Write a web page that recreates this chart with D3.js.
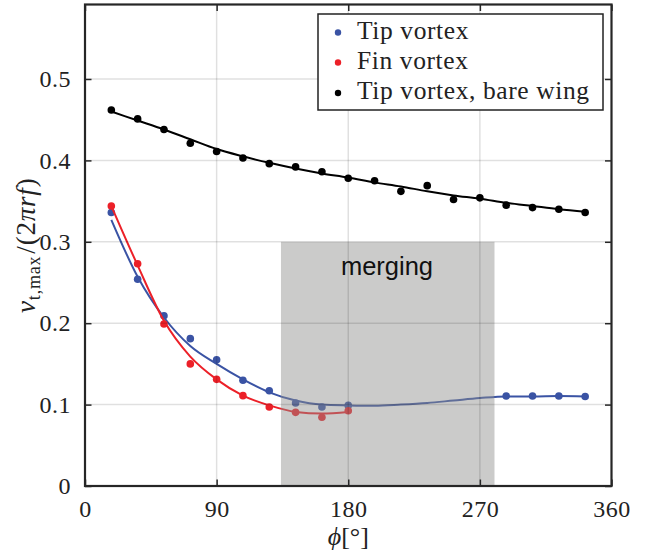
<!DOCTYPE html>
<html>
<head>
<meta charset="utf-8">
<script src="https://cdn.jsdelivr.net/npm/d3@7/dist/d3.min.js"></script>
<style>
  html, body { margin: 0; padding: 0; background: #fff; }
  svg { display: block; }
</style>
</head>
<body>
<div id="chart"></div>
<script>
// ---- data ----
const xTicks = [0, 90, 180, 270, 360];
const yTicks = [0, 0.1, 0.2, 0.3, 0.4, 0.5];
const yTickLabels = ["0", "0.1", "0.2", "0.3", "0.4", "0.5"];

const phiAll = [18, 36, 54, 72, 90, 108, 126, 144, 162, 180, 198, 216, 234, 252, 270, 288, 306, 324, 342];
const bareVals = [0.462, 0.451, 0.438, 0.421, 0.411, 0.403, 0.396, 0.392, 0.386, 0.378, 0.375, 0.362, 0.369, 0.352, 0.354, 0.345, 0.342, 0.340, 0.336];
const bareFit  = [0.460, 0.449, 0.438, 0.426, 0.414, 0.405, 0.397, 0.390, 0.384, 0.379, 0.373, 0.368, 0.362, 0.357, 0.353, 0.348, 0.344, 0.340, 0.337];

const tipPhi  = [18, 36, 54, 72, 90, 108, 126, 144, 162, 180, 288, 306, 324, 342];
const tipVals = [0.336, 0.254, 0.209, 0.181, 0.155, 0.130, 0.117, 0.102, 0.097, 0.099, 0.1106, 0.1106, 0.1106, 0.110];
const tipFit  = [0.327, 0.257, 0.207, 0.172, 0.150, 0.131, 0.115, 0.105, 0.100, 0.099, 0.0985, 0.100, 0.102, 0.105, 0.108, 0.110, 0.110, 0.1105, 0.110];

const finPhi  = [18, 36, 54, 72, 90, 108, 126, 144, 162, 180];
const finVals = [0.344, 0.273, 0.199, 0.150, 0.131, 0.111, 0.097, 0.0905, 0.0844, 0.0925];
const finFit  = [0.344, 0.271, 0.203, 0.159, 0.131, 0.111, 0.099, 0.091, 0.089, 0.091];

const mergeRange = [134, 280];
const mergeTop = 0.3;

const seriesNames = ["Tip vortex", "Fin vortex", "Tip vortex, bare wing"];
const seriesColors = ["#3a53a4", "#ec2028", "#000000"];

// ---- layout ----
const W = 646, H = 560;
const pL = 85, pR = 611.5, pT = 4.5, pB = 486;

const svg = d3.select("#chart").append("svg").attr("width", W).attr("height", H);

const x = d3.scaleLinear().domain([0, 360]).range([pL, pR]);
const y = d3.scaleLinear().domain([0, (pB - pT) / 814]).range([pB, pT]);

const serif = "'Liberation Serif', 'DejaVu Serif', serif";

const line = d3.line().x(d => x(d[0])).y(d => y(d[1])).curve(d3.curveMonotoneX);

function drawSeries(phiFit, fit, phiPts, pts, color) {
  svg.append("path")
    .attr("d", line(phiFit.map((p, i) => [p, fit[i]])))
    .attr("fill", "none").attr("stroke", color).attr("stroke-width", 2);
  svg.append("g").selectAll("circle").data(phiPts.map((p, i) => [p, pts[i]])).join("circle")
    .attr("cx", d => x(d[0])).attr("cy", d => y(d[1])).attr("r", 3.8).attr("fill", color);
}
drawSeries(phiAll, bareFit, phiAll, bareVals, seriesColors[2]);
drawSeries(phiAll, tipFit, tipPhi, tipVals, seriesColors[0]);
drawSeries(finPhi, finFit, finPhi, finVals, seriesColors[1]);

// merging patch (semi-transparent, over lines)
svg.append("rect")
  .attr("x", x(mergeRange[0])).attr("y", y(mergeTop))
  .attr("width", x(mergeRange[1]) - x(mergeRange[0]))
  .attr("height", y(0) - y(mergeTop))
  .attr("fill", "rgb(142,141,140)").attr("fill-opacity", 0.46);

// grid on top (MATLAB style)
svg.append("g").selectAll("line").data(xTicks.slice(1, -1)).join("line")
  .attr("x1", d => x(d)).attr("x2", d => x(d)).attr("y1", pT).attr("y2", pB)
  .attr("stroke", "#000").attr("stroke-opacity", 0.12).attr("stroke-width", 1.5);
svg.append("g").selectAll("line").data(yTicks.slice(1)).join("line")
  .attr("y1", d => y(d)).attr("y2", d => y(d)).attr("x1", pL).attr("x2", pR)
  .attr("stroke", "#000").attr("stroke-opacity", 0.12).attr("stroke-width", 1.5);

// merging label
svg.append("text").attr("x", 387).attr("y", 275).attr("text-anchor", "middle")
  .attr("font-family", "'Liberation Sans', Arial, sans-serif").attr("font-size", 25.5)
  .attr("fill", "#111").text("merging");

// axes
const axisColor = "#262626";
const tickLen = 6.5;
const gB = svg.append("g").attr("transform", `translate(0,${pB})`)
  .call(d3.axisBottom(x).tickValues(xTicks).tickSizeInner(-tickLen).tickSizeOuter(0).tickPadding(14));
const gT = svg.append("g").attr("transform", `translate(0,${pT})`)
  .call(d3.axisTop(x).tickValues(xTicks).tickSizeInner(-tickLen).tickSizeOuter(0).tickFormat(""));
const gL = svg.append("g").attr("transform", `translate(${pL},0)`)
  .call(d3.axisLeft(y).tickValues(yTicks).tickSizeInner(-tickLen).tickSizeOuter(0).tickPadding(14)
    .tickFormat((d, i) => yTickLabels[i]));
const gR = svg.append("g").attr("transform", `translate(${pR},0)`)
  .call(d3.axisRight(y).tickValues(yTicks).tickSizeInner(-tickLen).tickSizeOuter(0).tickFormat(""));

[gB, gT, gL, gR].forEach(g => {
  g.select(".domain").remove();
  g.selectAll(".tick line").attr("stroke", axisColor).attr("stroke-width", 1.5);
  g.selectAll(".tick text").attr("font-family", serif).attr("font-size", 24)
    .attr("letter-spacing", 0.5).attr("fill", "#222");
});
svg.append("rect").attr("x", pL).attr("y", pT).attr("width", pR - pL).attr("height", pB - pT)
  .attr("fill", "none").attr("stroke", axisColor).attr("stroke-width", 2.2);

// axis labels
const xl = svg.append("text").attr("x", (pL + pR) / 2).attr("y", 545).attr("text-anchor", "middle")
  .attr("font-family", serif).attr("font-size", 26).attr("fill", "#222");
xl.append("tspan").attr("font-style", "italic").text("ϕ");
xl.append("tspan").text("[°]");

const yl = svg.append("text").attr("transform", `translate(35,${(pT + pB) / 2}) rotate(-90)`)
  .attr("text-anchor", "middle").attr("font-family", serif).attr("font-size", 27)
  .attr("letter-spacing", 0.8).attr("fill", "#222");
yl.append("tspan").attr("font-style", "italic").text("v");
yl.append("tspan").attr("font-size", 18).attr("dy", 5).text("t,max");
yl.append("tspan").attr("dy", -5).attr("dx", 2).text("/(2");
yl.append("tspan").attr("font-style", "italic").text("πrf");
yl.append("tspan").text(")");

// legend
const lg = svg.append("g");
lg.append("rect").attr("x", 318).attr("y", 14).attr("width", 285).attr("height", 96)
  .attr("fill", "#fff").attr("stroke", "#222").attr("stroke-width", 1.5);
const rowsY = [38.5, 68.5, 99];
seriesNames.forEach((n, i) => {
  lg.append("circle").attr("cx", 338).attr("cy", rowsY[i] - 6).attr("r", 3.2).attr("fill", seriesColors[i]);
  lg.append("text").attr("x", 357).attr("y", rowsY[i]).attr("font-family", serif).attr("font-size", 25.5)
    .attr("letter-spacing", 0.6).attr("fill", "#222").text(n);
});
</script>
</body>
</html>
